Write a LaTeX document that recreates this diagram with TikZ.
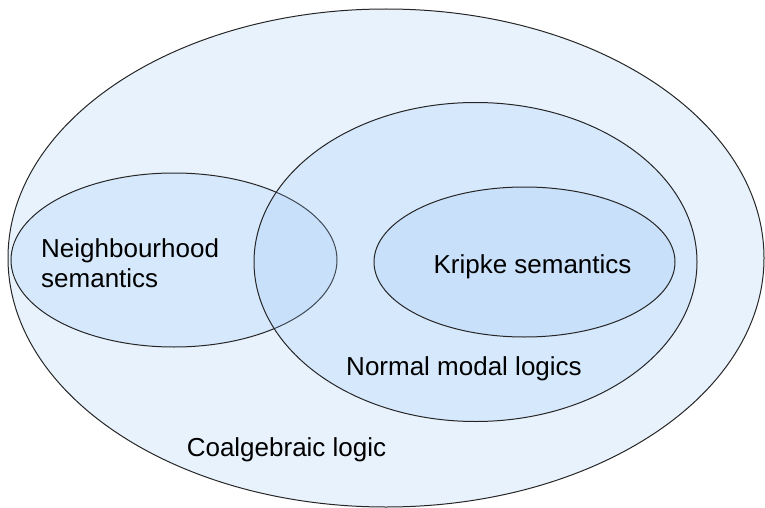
\documentclass[tikz,border=0pt]{standalone}
\usepackage{fontspec}
\setmainfont{Liberation Sans}
\usetikzlibrary{shapes.geometric}
\definecolor{setblue}{RGB}{150,196,246}
\begin{document}
\begin{tikzpicture}[x=1pt,y=-1pt]
% Estilos para los conjuntos
\tikzstyle{logicset} = [ellipse, draw=black!85, line width=1pt, fill=setblue, fill opacity=0.22, inner sep=0pt]
\tikzstyle{setname} = [font=\fontsize{26}{30}\selectfont, align=left, inner sep=0pt]

\useasboundingbox (0,0) rectangle (765,508);

% Conjuntos
\node[logicset, minimum width=756pt, minimum height=498pt] (coalg) at (386,258) {};
\node[logicset, minimum width=326pt, minimum height=174pt] (nbhd) at (174,260) {};
\node[logicset, minimum width=443pt, minimum height=319pt] (normal) at (475.5,262) {};
\node[logicset, minimum width=301pt, minimum height=150pt] (kripke) at (524.5,262) {};

% Nombres
\node[setname, anchor=base west] (nbhdtext) at (41,287) {Neighbourhood\\semantics};
\node[setname, anchor=base] (kripketext) at (532.5,273) {Kripke semantics};
\node[setname, anchor=base] (normaltext) at (464,375) {Normal modal logics};
\node[setname, anchor=base] (coalgtext) at (286.5,456) {Coalgebraic logic};
\end{tikzpicture}
\end{document}
